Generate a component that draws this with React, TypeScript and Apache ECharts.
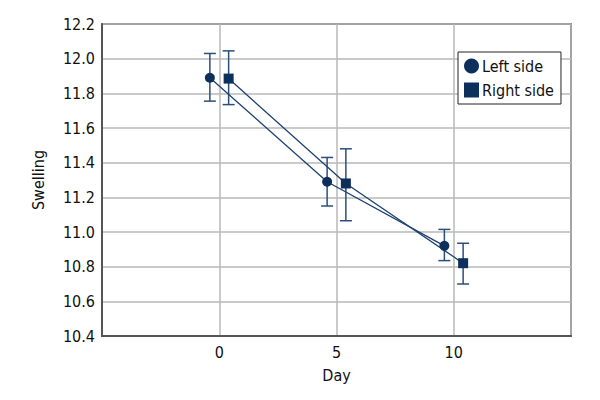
import React, { useEffect, useRef } from "react";
import * as echarts from "echarts";

const days = [0, 5, 10];
const leftMean = [11.89, 11.29, 10.92];
const leftLow = [11.755, 11.15, 10.835];
const leftHigh = [12.03, 11.43, 11.015];
const rightMean = [11.885, 11.28, 10.82];
const rightLow = [11.735, 11.065, 10.7];
const rightHigh = [12.045, 11.48, 10.935];
const dodge = 0.4;
const yTicksMin = 10.4;
const yTicksMax = 12.2;

const FONT = "'DejaVu Sans Condensed', 'Liberation Sans Narrow', sans-serif";
const NAVY = "#0d2f5c";
const BAR = "#2a4f7d";

const errRender = (params: any, api: any) => {
  const x = api.value(0);
  const lo = api.value(1);
  const hi = api.value(2);
  const pLo = api.coord([x, lo]);
  const pHi = api.coord([x, hi]);
  const hw = 6;
  const style = { stroke: BAR, lineWidth: 1.5, fill: "none" };
  return {
    type: "group",
    children: [
      { type: "line", shape: { x1: pLo[0], y1: pLo[1], x2: pHi[0], y2: pHi[1] }, style },
      { type: "line", shape: { x1: pLo[0] - hw, y1: pLo[1], x2: pLo[0] + hw, y2: pLo[1] }, style },
      { type: "line", shape: { x1: pHi[0] - hw, y1: pHi[1], x2: pHi[0] + hw, y2: pHi[1] }, style },
    ],
  };
};

export default function App() {
  const ref = useRef<HTMLDivElement>(null);
  useEffect(() => {
    if (!ref.current) return;
    const chart = echarts.init(ref.current, null, { renderer: "svg" });
    const leftX = days.map((d) => d - dodge);
    const rightX = days.map((d) => d + dodge);
    chart.setOption({
      animation: false,
      backgroundColor: "#fff",
      textStyle: { fontFamily: FONT },
      grid: {
        left: 102,
        right: 29,
        top: 24,
        bottom: 64,
        show: true,
        borderColor: "#333",
        borderWidth: 1.5,
      },
      legend: {
        orient: "vertical",
        left: 458,
        top: 52,
        itemWidth: 15,
        itemHeight: 15,
        itemGap: 8,
        padding: [6, 7, 6, 6],
        borderColor: "#222",
        borderWidth: 1,
        backgroundColor: "#fff",
        textStyle: { fontFamily: FONT, fontSize: 16, color: "#111", padding: [0, 0, 0, -2] },
        data: [
          { name: "Left side", icon: "circle" },
          { name: "Right side", icon: "rect" },
        ],
      },
      xAxis: {
        type: "value",
        min: -5,
        max: 15,
        interval: 5,
        name: "Day",
        nameLocation: "middle",
        nameGap: 31,
        nameTextStyle: { fontFamily: FONT, fontSize: 16, color: "#111" },
        axisLine: { show: true, onZero: false, lineStyle: { color: "#555", width: 2 } },
        axisTick: { show: false },
        axisLabel: {
          fontFamily: FONT,
          fontSize: 16,
          color: "#111",
          margin: 8,
          formatter: (v: number) => (v === 0 || v === 5 || v === 10 ? String(v) : ""),
        },
        splitLine: { show: true, lineStyle: { color: "#b8b8b8", width: 1.5 } },
      },
      yAxis: {
        type: "value",
        min: yTicksMin,
        max: yTicksMax,
        interval: 0.2,
        name: "Swelling",
        nameLocation: "middle",
        nameGap: 56,
        nameTextStyle: { fontFamily: FONT, fontSize: 16, color: "#111" },
        axisLine: { show: true, onZero: false, lineStyle: { color: "#555", width: 2 } },
        axisTick: { show: false },
        axisLabel: {
          fontFamily: FONT,
          fontSize: 16,
          color: "#111",
          margin: 7,
          formatter: (v: number) => v.toFixed(1),
        },
        splitLine: { show: true, lineStyle: { color: "#b8b8b8", width: 1.5 } },
      },
      series: [
        {
          name: "Left err",
          type: "custom",
          renderItem: errRender,
          encode: { x: 0, y: [1, 2] },
          data: leftX.map((x, i) => [x, leftLow[i], leftHigh[i]]),
          z: 2,
        },
        {
          name: "Right err",
          type: "custom",
          renderItem: errRender,
          encode: { x: 0, y: [1, 2] },
          data: rightX.map((x, i) => [x, rightLow[i], rightHigh[i]]),
          z: 2,
        },
        {
          name: "Left side",
          type: "line",
          data: leftX.map((x, i) => [x, leftMean[i]]),
          symbol: "circle",
          symbolSize: 10,
          itemStyle: { color: NAVY },
          lineStyle: { color: "#1d4272", width: 1.3 },
          z: 3,
        },
        {
          name: "Right side",
          type: "line",
          data: rightX.map((x, i) => [x, rightMean[i]]),
          symbol: "rect",
          symbolSize: 10,
          itemStyle: { color: NAVY },
          lineStyle: { color: "#1d4272", width: 1.3 },
          z: 3,
        },
      ],
    });
    return () => chart.dispose();
  }, []);
  return <div ref={ref} style={{ width: 600, height: 400, position: "absolute", left: 0, top: 0 }} />;
}
